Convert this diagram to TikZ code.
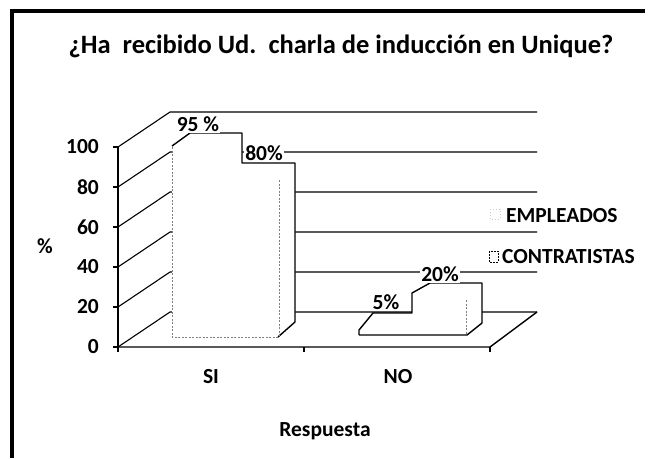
\documentclass[tikz,border=0pt]{standalone}
\usepackage{fontspec}
\setmainfont{Carlito}
\begin{document}
\begin{tikzpicture}[x=1pt,y=-1pt,
  lbl/.style={font=\bfseries\fontsize{21.5}{21.5}\selectfont, inner sep=1pt},
  val/.style={font=\bfseries\fontsize{21.5}{21.5}\selectfont, inner sep=1pt, fill=white},
  grid/.style={line width=1.1pt},
  axis/.style={line width=1.4pt},
  barline/.style={line width=1.4pt, line join=round},
  bardot/.style={line width=0.8pt, dash pattern=on 2pt off 1.5pt, gray}]
\useasboundingbox (0,0) rectangle (658,458);
% frame
\draw[line width=4pt] (12,458) -- (12,11) -- (645,11);
% title
\node[font=\bfseries\fontsize{26.5}{26.5}\selectfont] (title) at (341,46) {¿Ha\ \ recibido Ud.\ \ charla de inducción en Unique?};
% left wall and back wall grid
\foreach \v in {0,20,40,60,80,100}{
  \pgfmathsetmacro{\yy}{347-2*\v}
  \coordinate (f\v) at (118,\yy);
  \coordinate (b\v) at (170,\yy-35);
  \coordinate (r\v) at (537,\yy-35);
  \draw[grid] (f\v) -- (b\v) -- (r\v);
  \draw[axis] (113,\yy) -- (f\v);
  \node[lbl, anchor=east] (y\v) at (100,\yy) {\v};
}
% axes
\coordinate (fr) at (490,347);
\draw[axis] (f0) -- (f100);
\draw[axis] (f0) -- (fr) -- (r0);
\foreach \x in {118,304,490}{\draw[axis] (\x,347) -- (\x,352);}
% SI bars
\fill[white] (172,337) -- (172,146) -- (190,133) -- (242,133) -- (242,163) -- (295,163) -- (295,322) -- (278,337) -- cycle;
\draw[barline] (172,146) -- (190,133) -- (242,133) -- (242,163) -- (295,163) -- (295,322) -- (278,337);
\draw[bardot] (278,337) -- (172,337) -- (172,146);
\draw[bardot] (279,180) -- (279,337);
% NO bars
\fill[white] (359,335) -- (359,330) -- (373,313) -- (412,313) -- (412,293) -- (430,283) -- (482,283) -- (482,323) -- (467,335) -- cycle;
\draw[barline] (359,335) -- (359,330) -- (373,313) -- (412,313) -- (412,293) -- (430,283) -- (482,283) -- (482,323) -- (467,335) -- (359,335);
\draw[bardot] (466,300) -- (466,335);
% value labels
\node[val] (v95) at (198,124) {95 \%};
\node[val] (v80) at (264,153) {80\%};
\node[val] (v5) at (386,302) {5\%};
\node[val] (v20) at (440,274) {20\%};
% legend
\draw[line width=0.6pt, gray!40, dash pattern=on 1pt off 2pt] (490,209) rectangle (500,219);
\node[lbl, anchor=west] (emp) at (505,216) {EMPLEADOS};
\draw[line width=0.8pt, dash pattern=on 2pt off 1pt] (489,251) rectangle (498,262);
\node[lbl, anchor=west] (con) at (501,257) {CONTRATISTAS};
% axis titles
\node[lbl] (pct) at (45,246) {\%};
\node[lbl] (si) at (211,377) {SI};
\node[lbl] (no) at (398,377) {NO};
\node[lbl] (resp) at (325,431) {Respuesta};
\end{tikzpicture}
\end{document}
